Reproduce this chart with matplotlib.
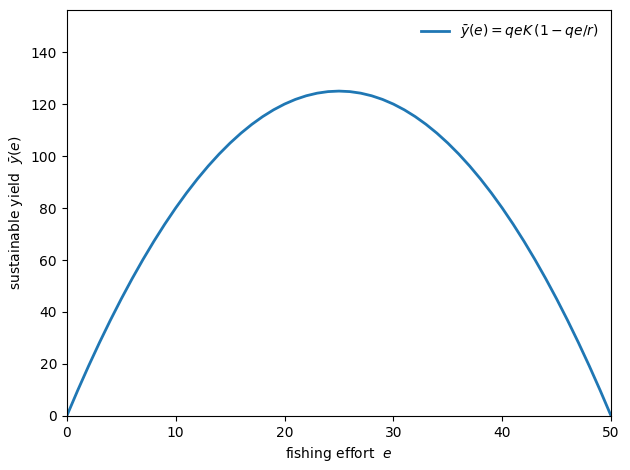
import matplotlib
matplotlib.use("Agg")
import matplotlib.pyplot as plt

# fishing effort and sustainable yield
effort = list(range(0, 51))
yield_ = [0.0, 9.8, 19.2, 28.2, 36.8, 45.0, 52.8, 60.2, 67.2, 73.8,
          80.0, 85.8, 91.2, 96.2, 100.8, 105.0, 108.8, 112.2, 115.2, 117.8,
          120.0, 121.8, 123.2, 124.2, 124.8, 125.0, 124.8, 124.2, 123.2, 121.8,
          120.0, 117.8, 115.2, 112.2, 108.8, 105.0, 100.8, 96.2, 91.2, 85.8,
          80.0, 73.8, 67.2, 60.2, 52.8, 45.0, 36.8, 28.2, 19.2, 9.8, 0.0]

fig, ax = plt.subplots(figsize=(6.3, 4.7), dpi=100)
ax.plot(effort, yield_, lw=2, label=r'$\bar{y}(e) = qeK\,(1 - qe/r)$')
ax.set_xlim(0, 50)
ax.set_ylim(0, 156.25)
ax.set_xlabel(r'fishing effort  $e$')
ax.set_ylabel(r'sustainable yield  $\bar{y}(e)$')
ax.legend(loc='upper right', frameon=False)
fig.subplots_adjust(left=0.106, right=0.970, bottom=0.115, top=0.979)
fig.savefig("out.png")
